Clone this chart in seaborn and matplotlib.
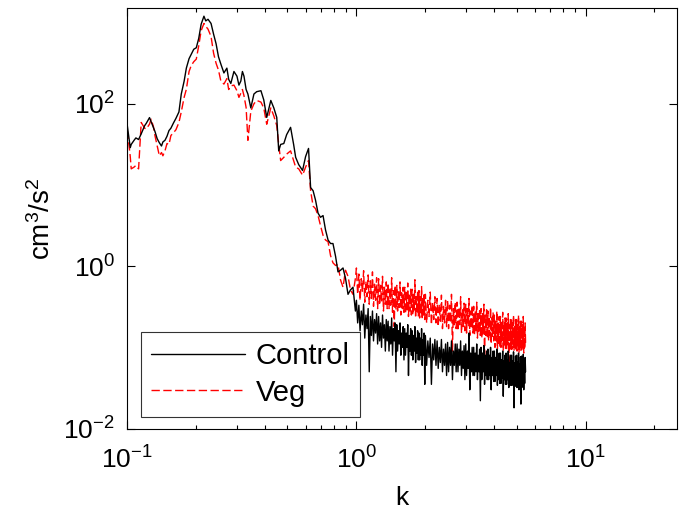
import numpy as np
import pandas as pd
import matplotlib
matplotlib.use("Agg")
import matplotlib.pyplot as plt
import seaborn as sns
from matplotlib.ticker import LogLocator, NullLocator, LogFormatterSciNotation

# wavenumber k, low range
k_low = [
    0.100, 0.103, 0.104, 0.107, 0.109, 0.112, 0.115, 0.119, 0.121, 0.125,
    0.127, 0.130, 0.132, 0.135, 0.138, 0.141, 0.143, 0.146, 0.149, 0.152,
    0.155, 0.159, 0.163, 0.168, 0.172, 0.177, 0.181, 0.186, 0.190, 0.195,
    0.200, 0.205, 0.210, 0.216, 0.220, 0.225, 0.232, 0.238, 0.244, 0.250,
    0.256, 0.264, 0.272, 0.277, 0.283, 0.292, 0.301, 0.307, 0.313, 0.318,
    0.323, 0.330, 0.336, 0.346, 0.357, 0.367, 0.383, 0.394, 0.406, 0.423,
    0.436, 0.449, 0.458, 0.467, 0.482, 0.496, 0.516, 0.532, 0.543, 0.560,
    0.582, 0.600, 0.618, 0.631, 0.647, 0.663, 0.680, 0.697, 0.715, 0.733,
    0.752, 0.771, 0.790, 0.811, 0.831, 0.852, 0.874, 0.896, 0.919, 0.942,
    0.966, 0.990,
]

# wavenumber k, noisy tail
k_high = [
    1.0000, 1.0125, 1.0250, 1.0375, 1.0500, 1.0625, 1.0750, 1.0875, 1.1000, 1.1125,
    1.1250, 1.1375, 1.1500, 1.1625, 1.1750, 1.1875, 1.2000, 1.2125, 1.2250, 1.2375,
    1.2500, 1.2625, 1.2750, 1.2875, 1.3000, 1.3125, 1.3250, 1.3375, 1.3500, 1.3625,
    1.3750, 1.3875, 1.4000, 1.4125, 1.4250, 1.4375, 1.4500, 1.4625, 1.4750, 1.4875,
    1.5000, 1.5125, 1.5250, 1.5375, 1.5500, 1.5625, 1.5750, 1.5875, 1.6000, 1.6125,
    1.6250, 1.6375, 1.6500, 1.6625, 1.6750, 1.6875, 1.7000, 1.7125, 1.7250, 1.7375,
    1.7500, 1.7625, 1.7750, 1.7875, 1.8000, 1.8125, 1.8250, 1.8375, 1.8500, 1.8625,
    1.8750, 1.8875, 1.9000, 1.9125, 1.9250, 1.9375, 1.9500, 1.9625, 1.9750, 1.9875,
    2.000, 2.025, 2.050, 2.075, 2.100, 2.125, 2.150, 2.175, 2.200, 2.225,
    2.250, 2.275, 2.300, 2.325, 2.350, 2.375, 2.400, 2.425, 2.450, 2.475,
    2.500, 2.525, 2.550, 2.575, 2.600, 2.625, 2.650, 2.675, 2.700, 2.725,
    2.750, 2.775, 2.800, 2.825, 2.850, 2.875, 2.900, 2.925, 2.950, 2.975,
    3.000, 3.025, 3.050, 3.075, 3.100, 3.125, 3.150, 3.175, 3.200, 3.225,
    3.250, 3.275, 3.300, 3.325, 3.350, 3.375, 3.400, 3.425, 3.450, 3.475,
    3.500, 3.525, 3.550, 3.575, 3.600, 3.625, 3.650, 3.675, 3.700, 3.725,
    3.750, 3.775, 3.800, 3.825, 3.850, 3.875, 3.900, 3.925, 3.950, 3.975,
    4.000, 4.025, 4.050, 4.075, 4.100, 4.125, 4.150, 4.175, 4.200, 4.225,
    4.250, 4.275, 4.300, 4.325, 4.350, 4.375, 4.400, 4.425, 4.450, 4.475,
    4.500, 4.525, 4.550, 4.575, 4.600, 4.625, 4.650, 4.675, 4.700, 4.725,
    4.750, 4.775, 4.800, 4.825, 4.850, 4.875, 4.900, 4.925, 4.950, 4.975,
    5.000, 5.025, 5.050, 5.075, 5.100, 5.125, 5.150, 5.175, 5.200, 5.225,
    5.250, 5.275, 5.300, 5.325, 5.350, 5.375, 5.400, 5.425, 5.450, 5.475,
]

# spectrum, Control (cm^3/s^2)
control_low = [
    53.7, 28.8, 31.6, 35.5, 38.0, 36.3, 42.7, 53.7, 57.5, 67.6,
    60.3, 51.3, 45.7, 37.2, 33.1, 30.2, 33.9, 35.5, 39.8, 46.8,
    50.1, 58, 66.1, 79.4, 132, 190, 275, 360, 407, 470,
    490, 640, 955, 1200, 1050, 1100, 977, 720, 550, 380,
    309, 240, 275, 200, 178, 250, 219, 170, 191, 250,
    219, 150, 132, 89, 132, 141, 145, 112, 68, 110,
    89, 68, 26.3, 31.6, 32.4, 41.7, 51.3, 31.6, 21.9, 17.8,
    15.1, 22.4, 28.2, 9.3, 8.5, 6.5, 4.5, 4.0, 4.2, 2.8,
    2.1, 1.9, 1.9, 1.32, 0.85, 0.89, 0.95, 0.71, 0.45, 0.51,
    0.55, 0.28,
]
control_high = [
    0.38, 0.20, 0.33, 0.16, 0.28, 0.19, 0.34, 0.13, 0.25, 0.17,
    0.30, 0.05, 0.24, 0.14, 0.28, 0.12, 0.22, 0.15, 0.26, 0.11,
    0.24, 0.12, 0.20, 0.10, 0.25, 0.13, 0.19, 0.09, 0.22, 0.12,
    0.21, 0.09, 0.18, 0.11, 0.23, 0.08, 0.17, 0.12, 0.20, 0.05,
    0.19, 0.09, 0.16, 0.11, 0.20, 0.08, 0.15, 0.10, 0.18, 0.07,
    0.17, 0.08, 0.15, 0.10, 0.19, 0.045, 0.14, 0.09, 0.17, 0.08,
    0.16, 0.07, 0.14, 0.09, 0.18, 0.065, 0.13, 0.085, 0.16, 0.07,
    0.15, 0.07, 0.13, 0.08, 0.17, 0.06, 0.125, 0.08, 0.15, 0.035,
    0.14, 0.06, 0.12, 0.075, 0.13, 0.035, 0.11, 0.07, 0.125, 0.06,
    0.12, 0.055, 0.10, 0.065, 0.125, 0.05, 0.095, 0.06, 0.11, 0.045,
    0.115, 0.05, 0.10, 0.06, 0.12, 0.04, 0.09, 0.06, 0.11, 0.05,
    0.11, 0.05, 0.095, 0.06, 0.12, 0.045, 0.09, 0.055, 0.105, 0.04,
    0.11, 0.045, 0.09, 0.055, 0.15, 0.03, 0.085, 0.05, 0.10, 0.045,
    0.10, 0.045, 0.085, 0.05, 0.11, 0.04, 0.08, 0.05, 0.095, 0.022,
    0.10, 0.04, 0.085, 0.05, 0.105, 0.035, 0.08, 0.045, 0.09, 0.04,
    0.095, 0.04, 0.08, 0.045, 0.10, 0.03, 0.075, 0.045, 0.09, 0.038,
    0.09, 0.038, 0.075, 0.045, 0.095, 0.034, 0.07, 0.04, 0.085, 0.036,
    0.085, 0.036, 0.07, 0.042, 0.09, 0.025, 0.068, 0.04, 0.08, 0.035,
    0.085, 0.035, 0.07, 0.04, 0.09, 0.032, 0.065, 0.038, 0.08, 0.034,
    0.08, 0.034, 0.068, 0.04, 0.088, 0.018, 0.064, 0.036, 0.078, 0.033,
    0.08, 0.032, 0.066, 0.038, 0.085, 0.03, 0.062, 0.035, 0.076, 0.02,
    0.078, 0.032, 0.065, 0.038, 0.082, 0.03, 0.06, 0.036, 0.075, 0.05,
]

# spectrum, Veg (cm^3/s^2)
veg_low = [
    46.8, 22.4, 15.8, 16.6, 17.4, 15.8, 58.9, 50.1, 49.0, 56.2,
    64.6, 52.5, 40.7, 30.2, 22.9, 25.1, 22.9, 26.3, 32.4, 31.6,
    40.7, 44, 47.9, 58.9, 79.4, 120, 151, 250, 295, 330,
    355, 520, 794, 977, 900, 832, 676, 420, 316, 260,
    191, 175, 204, 150, 166, 170, 145, 120, 135, 150,
    126, 90, 35.5, 81, 100, 110, 105, 89, 56, 89,
    71, 54, 31.6, 20, 21.9, 24.0, 26.3, 20.0, 16.6, 15.8,
    13.2, 16.6, 20.0, 8.5, 5.5, 5.1, 4.2, 3.16, 2.4, 2.1,
    2.0, 1.35, 1.1, 1.02, 1.05, 0.68, 0.55, 0.89, 0.75, 0.51,
    0.45, 0.71,
]
veg_high = [
    0.95, 0.45, 0.80, 0.38, 0.70, 0.48, 0.88, 0.36, 0.65, 0.42,
    0.78, 0.34, 0.66, 0.40, 0.85, 0.32, 0.60, 0.38, 0.72, 0.30,
    0.70, 0.33, 0.58, 0.36, 0.75, 0.28, 0.55, 0.34, 0.64, 0.30,
    0.62, 0.30, 0.54, 0.33, 0.72, 0.27, 0.50, 0.18, 0.58, 0.29,
    0.58, 0.28, 0.50, 0.31, 0.64, 0.25, 0.47, 0.30, 0.55, 0.27,
    0.55, 0.26, 0.47, 0.29, 0.62, 0.24, 0.44, 0.28, 0.52, 0.25,
    0.52, 0.25, 0.45, 0.28, 0.68, 0.23, 0.42, 0.27, 0.50, 0.24,
    0.50, 0.23, 0.42, 0.26, 0.56, 0.22, 0.40, 0.25, 0.47, 0.22,
    0.45, 0.20, 0.38, 0.24, 0.48, 0.19, 0.36, 0.22, 0.42, 0.20,
    0.40, 0.18, 0.34, 0.21, 0.44, 0.17, 0.32, 0.20, 0.38, 0.18,
    0.38, 0.17, 0.33, 0.20, 0.45, 0.09, 0.30, 0.19, 0.36, 0.17,
    0.36, 0.16, 0.31, 0.19, 0.42, 0.15, 0.29, 0.18, 0.35, 0.16,
    0.34, 0.15, 0.30, 0.18, 0.40, 0.14, 0.28, 0.17, 0.33, 0.15,
    0.32, 0.14, 0.28, 0.16, 0.36, 0.13, 0.26, 0.15, 0.30, 0.14,
    0.30, 0.13, 0.26, 0.15, 0.34, 0.07, 0.25, 0.14, 0.29, 0.13,
    0.28, 0.12, 0.24, 0.14, 0.31, 0.11, 0.23, 0.13, 0.27, 0.12,
    0.25, 0.10, 0.21, 0.12, 0.28, 0.095, 0.20, 0.11, 0.24, 0.10,
    0.24, 0.10, 0.20, 0.115, 0.27, 0.09, 0.19, 0.105, 0.23, 0.095,
    0.23, 0.095, 0.20, 0.11, 0.26, 0.06, 0.19, 0.10, 0.22, 0.095,
    0.23, 0.095, 0.20, 0.11, 0.25, 0.09, 0.18, 0.10, 0.22, 0.09,
    0.22, 0.09, 0.19, 0.105, 0.25, 0.085, 0.18, 0.10, 0.21, 0.09,
    0.21, 0.09, 0.19, 0.10, 0.24, 0.085, 0.18, 0.095, 0.20, 0.11,
]

sns.set_theme(style="ticks")
plt.rcParams["font.family"] = ["Liberation Sans", "DejaVu Sans"]
plt.rcParams["mathtext.fontset"] = "custom"
plt.rcParams["mathtext.rm"] = "Liberation Sans"
plt.rcParams["mathtext.it"] = "Liberation Sans"
plt.rcParams["axes.unicode_minus"] = False
plt.rcParams["text.color"] = "black"
plt.rcParams["axes.labelcolor"] = "black"

df = pd.DataFrame({
    "k": k_low + k_high,
    "Control": control_low + control_high,
    "Veg": veg_low + veg_high,
})

fig = plt.figure(figsize=(6.79, 5.11), dpi=100)
ax = fig.add_axes([0.1875, 0.1614, 0.8091, 0.8223])

sns.lineplot(data=df, x="k", y="Veg", ax=ax, color="red", lw=1.0,
             estimator=None, label="Veg", zorder=2)
ax.lines[-1].set_dashes((6, 2.5))
sns.lineplot(data=df, x="k", y="Control", ax=ax, color="black", lw=1.0,
             estimator=None, label="Control", zorder=3)

ax.set_xscale("log")
ax.set_yscale("log")
ax.set_xlim(0.1, 25)
ax.set_ylim(0.01, 1500)

ax.xaxis.set_major_locator(LogLocator(base=10, numticks=10))
ax.xaxis.set_minor_locator(LogLocator(base=10, subs=np.arange(2, 10), numticks=20))
ax.yaxis.set_major_locator(LogLocator(base=100, numticks=10))
ax.yaxis.set_minor_locator(NullLocator())
ax.xaxis.set_major_formatter(LogFormatterSciNotation())
ax.yaxis.set_major_formatter(LogFormatterSciNotation(base=10))

ax.tick_params(which="both", direction="in", top=True, right=True,
               colors="black", labelcolor="black", labelsize=19, width=0.8)
ax.tick_params(which="major", length=5.5)
ax.tick_params(which="minor", length=3)
ax.tick_params(axis="y", which="major", pad=9)
ax.tick_params(axis="x", which="major", pad=13)
for sp in ax.spines.values():
    sp.set_color("black")
    sp.set_linewidth(0.8)

ax.set_xlabel("k", fontsize=19, labelpad=9)
ax.set_ylabel("cm$^3$/s$^2$", fontsize=20, labelpad=5)

handles, labels = ax.get_legend_handles_labels()
order = [labels.index("Control"), labels.index("Veg")]
leg = ax.legend([handles[i] for i in order], [labels[i] for i in order],
                loc="lower left", bbox_to_anchor=(0.025, 0.028), borderaxespad=0,
                fontsize=21, handlelength=3.2, handletextpad=0.37,
                labelspacing=0.3, borderpad=0.35, frameon=True, fancybox=False)
leg.get_frame().set_edgecolor("black")
leg.get_frame().set_linewidth(0.8)

fig.savefig("out.png", dpi=100)
